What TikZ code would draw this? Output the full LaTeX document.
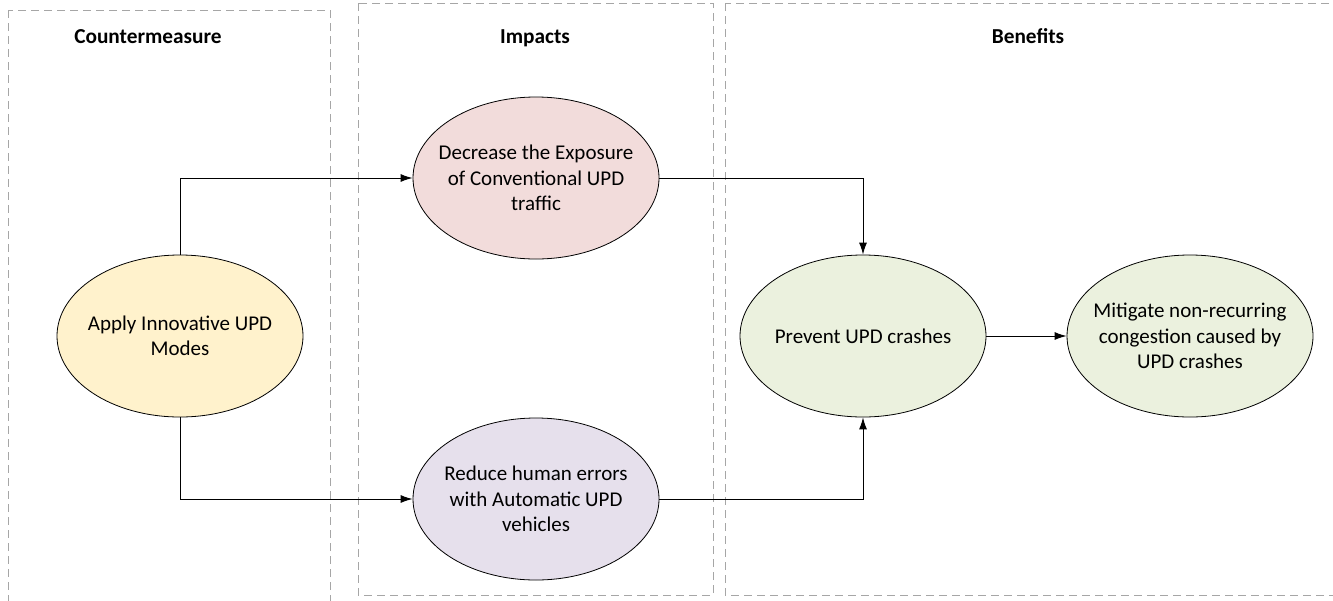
\documentclass[tikz,border=0pt]{standalone}
\usepackage{fontspec}
\setmainfont{Carlito}
\usetikzlibrary{shapes.geometric,arrows.meta}
\definecolor{panelgray}{HTML}{A6A6A6}
\definecolor{fyellow}{HTML}{FFF2CC}
\definecolor{fpink}{HTML}{F2DCDB}
\definecolor{flav}{HTML}{E6E0EC}
\definecolor{fgreen}{HTML}{EBF1DE}
\tikzset{
  panel/.style={draw=panelgray, line width=1pt, dash pattern=on 8pt off 5pt},
  bubble/.style={ellipse, draw=black, line width=0.8pt, minimum width=246pt, minimum height=162pt,
    inner xsep=-40pt, inner ysep=-10pt, align=center, font=\fontsize{21}{25.5}\selectfont},
  title/.style={font=\fontsize{21.3}{25}\selectfont\bfseries, anchor=base},
  conn/.style={draw=black, line width=1pt, -{Latex[length=12pt,width=8pt]}}
}
\begin{document}
\begin{tikzpicture}[x=1pt,y=-1pt]
\useasboundingbox (0,0) rectangle (1333,600);
\clip (0,0) rectangle (1333,600);
% panels
\draw[panel] (8,10) rectangle (330,620);
\draw[panel] (358,3) rectangle (713,595);
\draw[panel] (725,3) rectangle (1345,595);
% titles
\node[title] (t1) at (148,43) {Countermeasure};
\node[title] (t2) at (535,43) {Impacts};
\node[title] (t3) at (1028,43) {Benefits};
% nodes
\node[bubble, fill=fyellow] (apply) at (180,336) {Apply Innovative UPD\\Modes};
\node[bubble, fill=fpink] (dec) at (536,178) {Decrease the Exposure\\of Conventional UPD\\traffic};
\node[bubble, fill=flav] (red) at (536,499) {Reduce human errors\\with Automatic UPD\\vehicles};
\node[bubble, fill=fgreen] (prev) at (863,336) {Prevent UPD crashes};
\node[bubble, fill=fgreen] (mit) at (1190,336) {Mitigate non-recurring\\congestion caused by\\UPD crashes};
% connectors
\draw[conn] (apply.north) |- (dec.west);
\draw[conn] (apply.south) |- (red.west);
\draw[conn] (dec.east) -| (prev.north);
\draw[conn] (red.east) -| (prev.south);
\draw[conn] (prev.east) -- (mit.west);
\end{tikzpicture}
\end{document}
